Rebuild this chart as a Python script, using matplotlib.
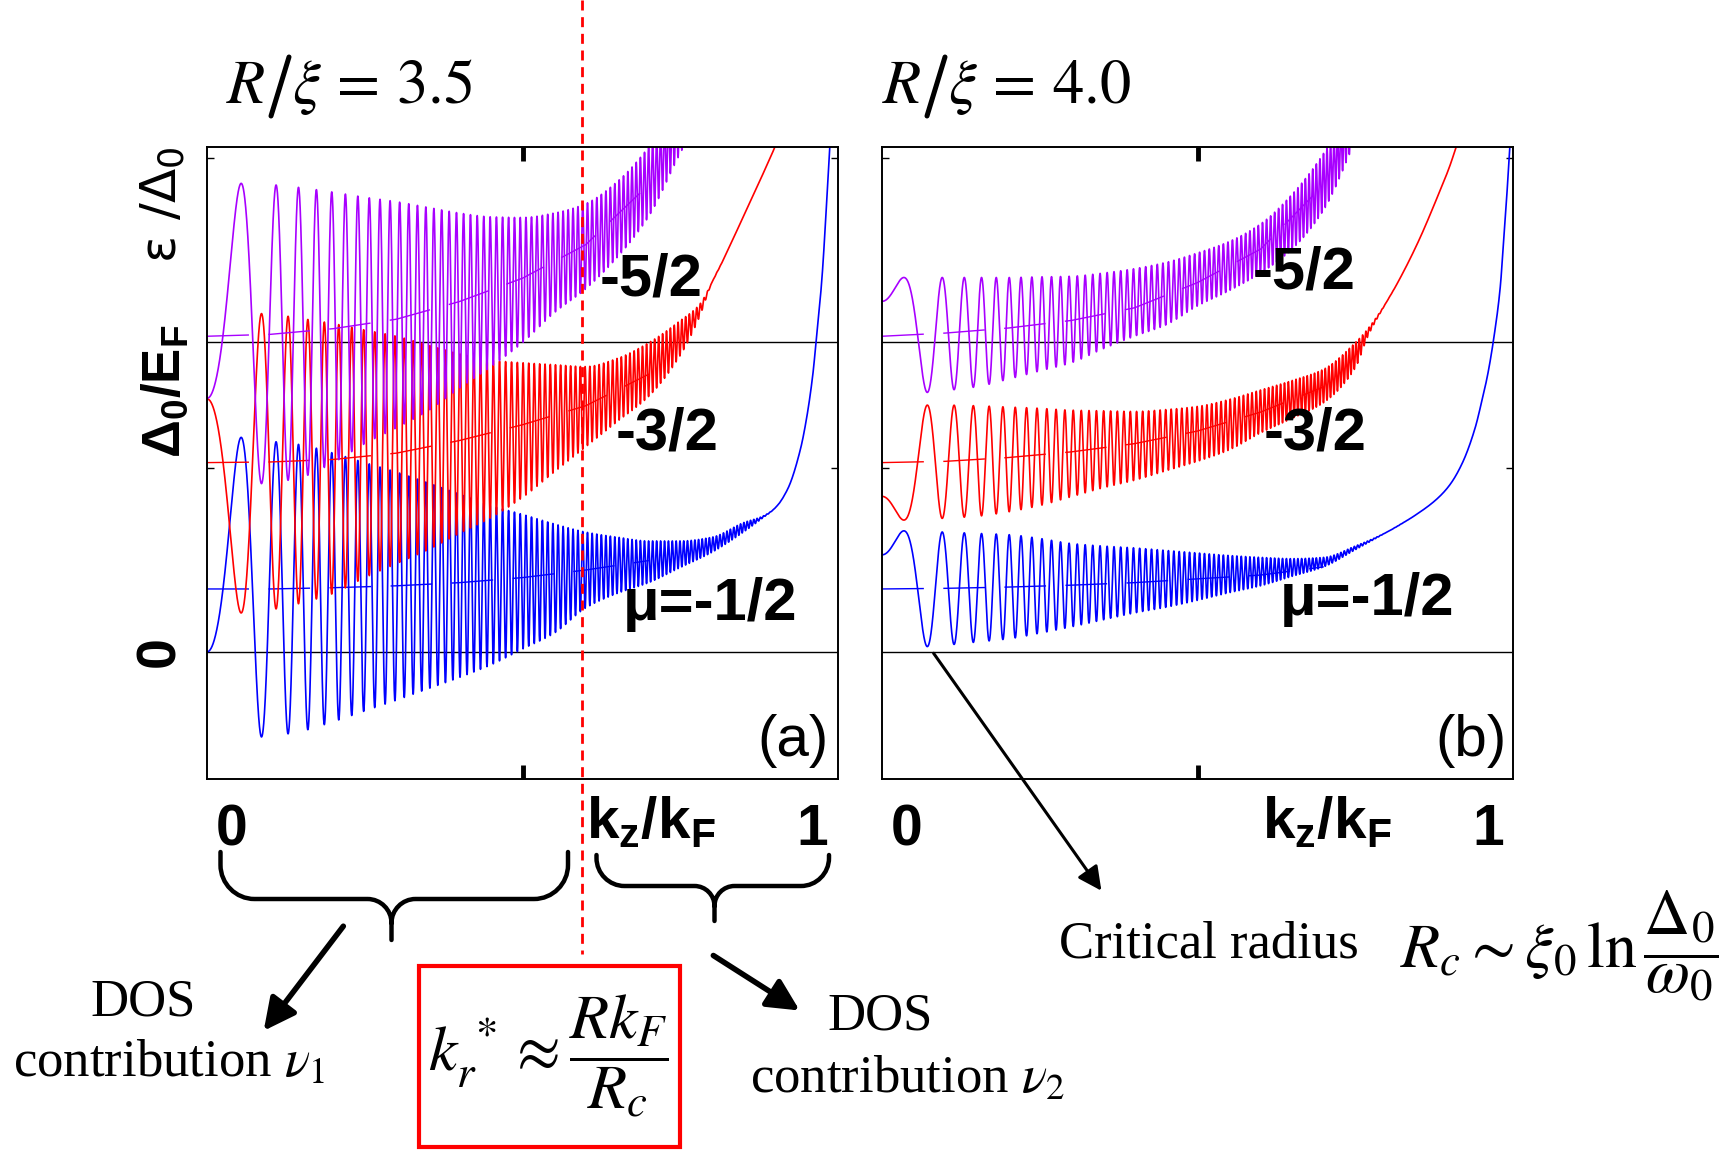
import numpy as np
import matplotlib
matplotlib.use('Agg')
import matplotlib.pyplot as plt
from matplotlib.patches import FancyArrowPatch, Rectangle, PathPatch
from matplotlib.path import Path
from matplotlib.lines import Line2D
from matplotlib.transforms import Affine2D

plt.rcParams['mathtext.fontset'] = 'custom'
plt.rcParams['mathtext.rm'] = 'Liberation Sans'
plt.rcParams['mathtext.it'] = 'Liberation Sans:italic'
plt.rcParams['mathtext.bf'] = 'Liberation Sans:bold'

W, H = 1729, 1150

# ---- data (kz/kF, eps/Delta0) ----
ef_line = 0.491      # Delta0/EF level
kr_star = 0.594      # red dashed line in panel (a)

# oscillation rate (peaks ~ rate*kz^2) and phase offset for each panel
osc_a = (111, 0.32)
osc_b = (127, 0.15)

# panel (a), R/xi = 3.5
a_blue_kz = [0, .05, .1, .15, .2, .25, .3, .35, .4, .45, .5, .55, .6, .65, .7, .75, .8, .85, .88,
             .9, .92, .94, .95, .96, .965, .97, .975, .98, .985, .99]
a_blue_hi = [.34, .34, .334, .328, .315, .30, .285, .268, .25, .232, .218, .203, .19, .182, .176, .176,
             .182, .205, .215, .228, .258, .32, .37, .44, .49, .54, .60, .68, .77, .85]
a_blue_lo = [-.136, -.136, -.133, -.125, -.11, -.093, -.076, -.058, -.04, -.02, .005, .03, .07, .093,
             .11, .134, .158, .19, .212, .228, .258, .32, .37, .44, .49, .54, .60, .68, .77, .85]

a_red_kz = [0, .05, .1, .15, .2, .25, .3, .35, .4, .45, .5, .55, .6, .65, .7, .75, .78, .8, .82, .85,
            .88, .9, .92]
a_red_hi = [.537, .537, .535, .528, .52, .51, .5, .486, .472, .462, .458, .455, .452, .465, .49, .525,
            .55, .585, .625, .69, .755, .80, .85]
a_red_lo = [.062, .062, .067, .078, .093, .118, .14, .162, .188, .213, .245, .285, .325, .365, .405,
            .47, .53, .585, .625, .69, .755, .80, .85]

a_purple_kz = [0, .05, .1, .15, .2, .25, .3, .35, .4, .45, .5, .55, .6, .65, .7, .75, .8]
a_purple_hi = [.742, .742, .74, .735, .728, .72, .713, .704, .695, .689, .688, .695, .71, .745, .80,
               .88, .96]
a_purple_lo = [.265, .265, .268, .277, .3, .33, .355, .382, .418, .452, .49, .537, .575, .625, .69,
               .79, .88]

# panel (b), R/xi = 4.0
b_blue_kz = [0, .05, .1, .15, .2, .25, .3, .35, .4, .45, .5, .55, .6, .65, .7, .75, .8, .85, .88, .9,
             .92, .94, .95, .96, .97, .98, .985, .99, .995]
b_blue_hi = [.192, .192, .19, .188, .186, .18, .172, .168, .165, .161, .157, .153, .15, .148, .15,
             .168, .19, .22, .243, .265, .30, .355, .395, .44, .50, .58, .65, .72, .80]
b_blue_lo = [.008, .008, .011, .016, .021, .03, .04, .051, .062, .071, .082, .094, .105, .12, .135,
             .162, .19, .22, .243, .265, .30, .355, .395, .44, .50, .58, .65, .72, .80]

b_red_kz = [0, .05, .1, .15, .2, .25, .3, .35, .4, .45, .5, .55, .6, .65, .7, .75, .77, .8, .82, .85,
            .88, .9, .91, .92]
b_red_hi = [.391, .391, .391, .39, .388, .386, .383, .382, .381, .384, .389, .4, .415, .43, .448, .49,
            .512, .555, .59, .65, .72, .77, .80, .83]
b_red_lo = [.209, .209, .212, .215, .222, .232, .246, .26, .272, .287, .302, .32, .347, .37, .395, .45,
            .50, .555, .59, .65, .72, .77, .80, .83]

b_purple_kz = [0, .05, .1, .15, .2, .25, .3, .35, .4, .45, .5, .55, .6, .65, .7, .75, .8]
b_purple_hi = [.593, .593, .593, .593, .593, .594, .595, .60, .607, .617, .632, .65, .678, .725, .79,
               .88, .98]
b_purple_lo = [.41, .41, .414, .42, .432, .445, .458, .48, .50, .518, .548, .572, .60, .638, .70, .81,
               .93]

# averaged (dashed) levels
center_kz = [0, .1, .2, .3, .4, .5, .6, .7]
a_blue_c = [.1, .1, .102, .105, .11, .118, .13, .145]
a_red_c = [.3, .301, .305, .315, .335, .36, .39, .44]
a_purple_c = [.5, .503, .512, .527, .555, .592, .645, .74]
b_blue_c = [.1, .101, .103, .106, .11, .116, .122, .135]
b_red_c = [.3, .302, .308, .317, .33, .35, .38, .42]
b_purple_c = [.5, .505, .513, .525, .545, .585, .638, .74]

BLUE, RED, PURPLE = '#0000ff', '#ff0000', '#a800ff'

fig = plt.figure(figsize=(W / 100, H / 100), dpi=100)
px = Affine2D().scale(1 / W, -1 / H).translate(0, 1) + fig.transFigure


def smooth(xk, yk, x):
    # monotone cubic (pchip) through the read points
    xk = np.asarray(xk, float)
    yk = np.asarray(yk, float)
    h = np.diff(xk)
    d = np.diff(yk) / h
    m = np.zeros_like(yk)
    m[0], m[-1] = d[0], d[-1]
    for k in range(1, len(xk) - 1):
        if d[k - 1] * d[k] > 0:
            w1 = 2 * h[k] + h[k - 1]
            w2 = h[k] + 2 * h[k - 1]
            m[k] = (w1 + w2) / (w1 / d[k - 1] + w2 / d[k])
    i = np.clip(np.searchsorted(xk, x) - 1, 0, len(xk) - 2)
    t = (x - xk[i]) / h[i]
    y = ((2 * t ** 3 - 3 * t ** 2 + 1) * yk[i] + (t ** 3 - 2 * t ** 2 + t) * h[i] * m[i]
         + (-2 * t ** 3 + 3 * t ** 2) * yk[i + 1] + (t ** 3 - t ** 2) * h[i] * m[i + 1])
    y[x > xk[-1]] = np.nan
    return y


def osc_curve(ax, kz, hi, lo, osc, sign, color):
    x = np.linspace(0, 1, 40000)
    up = smooth(kz, hi, x)
    dn = smooth(kz, lo, x)
    rate, off = osc
    phase = 2 * np.pi * (rate * x ** 2 - off)
    y = (up + dn) / 2 + sign * (up - dn) / 2 * np.cos(phase)
    ax.plot(x, y, color=color, lw=1.2)


def center_line(ax, c, color):
    ax.plot(center_kz, c, color=color, lw=1.0, dashes=(30, 14))


def setup(ax):
    ax.set_xlim(0, 1)
    ax.set_ylim(-0.2, 0.8)
    ax.axhline(0, color='k', lw=1.0, zorder=0)
    ax.axhline(ef_line, color='k', lw=1.0, zorder=0)
    ax.set_xticks([0.5])
    ax.set_yticks([0.291, 0.782])
    ax.tick_params(axis='x', direction='in', length=10, width=3.5, top=True, labelbottom=False)
    ax.tick_params(axis='y', direction='in', length=5, width=1.0, right=True, labelleft=False)
    for s in ax.spines.values():
        s.set_linewidth(1.4)


ax_a = fig.add_axes([207.3 / W, 1 - 778.5 / H, 630.8 / W, 631.8 / H])
ax_b = fig.add_axes([882.2 / W, 1 - 778.5 / H, 630.8 / W, 631.8 / H])
for ax in (ax_a, ax_b):
    setup(ax)

osc_curve(ax_a, a_blue_kz, a_blue_hi, a_blue_lo, osc_a, 1, BLUE)
center_line(ax_a, a_blue_c, BLUE)
osc_curve(ax_a, a_red_kz, a_red_hi, a_red_lo, osc_a, -1, RED)
center_line(ax_a, a_red_c, RED)
osc_curve(ax_a, a_purple_kz, a_purple_hi, a_purple_lo, osc_a, 1, PURPLE)
center_line(ax_a, a_purple_c, PURPLE)

osc_curve(ax_b, b_blue_kz, b_blue_hi, b_blue_lo, osc_b, 1, BLUE)
center_line(ax_b, b_blue_c, BLUE)
osc_curve(ax_b, b_red_kz, b_red_hi, b_red_lo, osc_b, -1, RED)
center_line(ax_b, b_red_c, RED)
osc_curve(ax_b, b_purple_kz, b_purple_hi, b_purple_lo, osc_b, 1, PURPLE)
center_line(ax_b, b_purple_c, PURPLE)

# curve labels
lab = dict(fontsize=43, fontweight='bold', family='Liberation Sans', va='baseline', ha='left')
ax_a.text(0.622, 0.564, '-5/2', **lab)
ax_a.text(0.648, 0.321, '-3/2', **lab)
ax_a.text(0.659, 0.051, 'μ=-1/2', **lab)
ax_b.text(0.587, 0.575, '-5/2', **lab)
ax_b.text(0.605, 0.321, '-3/2', **lab)
ax_b.text(0.631, 0.059, 'μ=-1/2', **lab)
ax_a.text(0.985, -0.164, '(a)', fontsize=42, family='Liberation Sans', ha='right', va='baseline')
ax_b.text(0.99, -0.164, '(b)', fontsize=42, family='Liberation Sans', ha='right', va='baseline')

# titles  R / xi = value  (tall slash drawn as a stroke)
serif = dict(family='Liberation Serif', math_fontfamily='stix', transform=px)
for x0, val in ((226, '3.5'), (882, '4.0')):
    fig.text(x0, 103, r'$R$', fontsize=45, ha='left', va='baseline', **serif)
    fig.add_artist(Line2D([x0 + 45, x0 + 63], [116, 57], transform=px, color='k', lw=3.6,
                          solid_capstyle='round'))
    fig.text(x0 + 66, 103, r'$\xi \,=\, ' + val + '$', fontsize=45, ha='left', va='baseline', **serif)

# axis labels
sans = dict(family='Liberation Sans', fontweight='bold', transform=px)
fig.text(165, 391, r'$\mathbf{\Delta_0/E_F}$', fontsize=38, rotation=90, ha='center', va='center', **sans)
fig.text(163, 205, r'$\mathrm{\epsilon}\ /\mathrm{\Delta}_0$', fontsize=36, rotation=90, ha='center',
         va='center', math_fontfamily='dejavusans', transform=px)
fig.text(160, 652, '0', fontsize=40, rotation=90, ha='center', va='center', **sans)
for x0, x1, xk in ((231.6, 812.7, 650.6), (906.4, 1488.6, 1326.5)):
    fig.text(x0, 845, '0', fontsize=41, ha='center', va='baseline', **sans)
    fig.text(x1, 845, '1', fontsize=41, ha='center', va='baseline', **sans)
    fig.text(xk, 838, r'$\mathbf{k_z/k_F}$', fontsize=42, ha='center', va='baseline', **sans)

# red dashed k_r* line
pos = ax_a.get_position()
xr = (pos.x0 + kr_star * pos.width) * W
fig.add_artist(Line2D([xr, xr], [0, 954], transform=px, color=RED, lw=2.0, linestyle=(0, (3.6, 2.4))))


def brace(x0, x1, xt, ytop, yflat, ytip, r, rt):
    c = 0.45
    verts = [(x0, ytop), (x0, yflat - r),
             (x0, yflat - r * c), (x0 + r * c, yflat), (x0 + r, yflat),
             (xt - rt, yflat),
             (xt - rt * c, yflat), (xt, yflat + rt * c), (xt, yflat + rt),
             (xt, ytip),
             (xt, yflat + rt), (xt, yflat + rt * c), (xt + rt * c, yflat), (xt + rt, yflat),
             (x1 - r, yflat),
             (x1 - r * c, yflat), (x1, yflat - r * c), (x1, yflat - r),
             (x1, ytop)]
    codes = [Path.MOVETO, Path.LINETO,
             Path.CURVE4, Path.CURVE4, Path.CURVE4,
             Path.LINETO,
             Path.CURVE4, Path.CURVE4, Path.CURVE4,
             Path.LINETO,
             Path.MOVETO, Path.CURVE4, Path.CURVE4, Path.CURVE4,
             Path.LINETO,
             Path.CURVE4, Path.CURVE4, Path.CURVE4,
             Path.LINETO]
    fig.add_artist(PathPatch(Path(verts, codes), transform=px, fill=False, lw=3.2,
                             capstyle='round', joinstyle='round'))


brace(220.5, 568, 391.5, 852, 899, 940, 34, 24)
brace(596.5, 829, 714.5, 855, 886, 921, 28, 20)


def arrow(p0, p1, lw, ms):
    fig.add_artist(FancyArrowPatch(p0, p1, transform=px, color='k', lw=lw,
                                   arrowstyle='-|>,head_length=0.6,head_width=0.3', mutation_scale=ms))


arrow((345, 924), (262, 1033), 4, 32)
arrow((711, 954), (802, 1012), 4, 32)
arrow((932, 651), (1103, 893), 2.2, 24)

# annotations
fig.text(143, 1015, 'DOS', fontsize=38, ha='center', va='baseline', **serif)
fig.text(13, 1077, r'contribution $\nu_1$', fontsize=38, ha='left', va='baseline', **serif)
fig.text(880, 1030, 'DOS', fontsize=38, ha='center', va='baseline', **serif)
fig.text(750, 1093, r'contribution $\nu_2$', fontsize=38, ha='left', va='baseline', **serif)
fig.text(1059, 958, 'Critical radius', fontsize=38, ha='left', va='baseline', **serif)
fig.text(1400, 946, r'$R_c \sim \xi_0\,\ln\dfrac{\Delta_0}{\omega_0}$', fontsize=46, ha='left',
         va='center', **serif)

fig.add_artist(Rectangle((419, 966), 261, 181, transform=px, fill=False, ec=RED, lw=3))
fig.text(548, 1056, r'$k_r^{\,*} \approx \dfrac{Rk_F}{R_c}$', fontsize=46, ha='center', va='center',
         **serif)

fig.savefig('out.png', dpi=100)
